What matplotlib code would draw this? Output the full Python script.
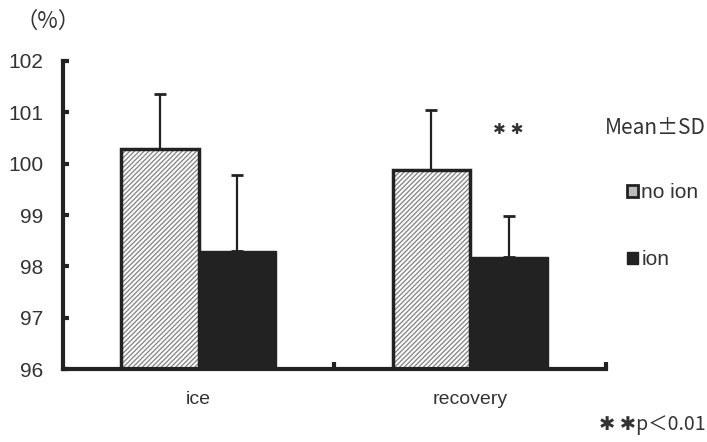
import numpy as np
import matplotlib
matplotlib.use('Agg')
import matplotlib.pyplot as plt
from matplotlib.patches import Patch

plt.rcParams['font.family'] = ['Liberation Sans', 'Noto Sans CJK JP', 'DejaVu Sans']
plt.rcParams['hatch.linewidth'] = 1.0

# data
categories = ['ice', 'recovery']
no_ion_mean = [100.29, 99.88]
no_ion_sd = [1.07, 1.17]
ion_mean = [98.30, 98.18]
ion_sd = [1.48, 0.80]
yticks = [96, 97, 98, 99, 100, 101, 102]

fig = plt.figure(figsize=(7.07, 4.42), dpi=100)
ax = fig.add_axes([0.089, 0.165, 0.768, 0.697])

x = np.arange(len(categories)) + 0.5
w = 0.285
dark = '#222222'
txt = '#333333'

# hatch in grey, then the dark outline on top
ax.bar(x - w/2, no_ion_mean, w, color='white', edgecolor='#8a8a8a',
       linewidth=0, hatch='///////', zorder=2)
ax.bar(x - w/2, no_ion_mean, w, fill=False, edgecolor=dark,
       linewidth=2.5, zorder=3, label='no ion')
ax.bar(x + w/2, ion_mean, w, color=dark, edgecolor=dark, linewidth=1,
       zorder=2, label='ion')
ax.errorbar(x - w/2, no_ion_mean, yerr=[np.zeros(2), no_ion_sd], fmt='none',
            ecolor=dark, elinewidth=1.6, capsize=4, capthick=2, zorder=1)
ax.errorbar(x + w/2, ion_mean, yerr=[np.zeros(2), ion_sd], fmt='none',
            ecolor=dark, elinewidth=1.6, capsize=4, capthick=2, zorder=1)

ax.set_xlim(0, 2)
ax.set_ylim(96, 102)
ax.set_yticks(yticks)
ax.set_yticklabels([str(t) for t in yticks], fontsize=15, color=txt)
ax.set_xticks([1, 2])
ax.set_xticklabels([])
ax.tick_params(axis='y', direction='in', length=4, width=3, color=dark, pad=14)
ax.tick_params(axis='x', direction='in', length=5, width=3, color=dark)
for c, xc in zip(categories, x):
    ax.text(xc, 95.4, c, ha='center', va='center', fontsize=14, color=txt)

for s in ['top', 'right']:
    ax.spines[s].set_visible(False)
for s in ['left', 'bottom']:
    ax.spines[s].set_linewidth(3)
    ax.spines[s].set_color(dark)
    ax.spines[s].set_zorder(4)
ax.spines['left'].set_bounds(96, 102)

fig.text(0.068, 0.952, '（%）', ha='center', va='center', fontsize=16,
         family=['Noto Sans CJK JP', 'DejaVu Sans'], color=txt)
fig.text(0.719, 0.706, '✱ ✱', ha='center', va='center', fontsize=11,
         family=['DejaVu Sans'], color=txt)
fig.text(0.998, 0.711, 'Mean±SD', ha='right', va='center', fontsize=15,
         family=['Noto Sans CJK JP', 'DejaVu Sans'], color=txt)
fig.text(0.998, 0.04, '✱ ✱p＜0.01', ha='right', va='center', fontsize=14,
         family=['Noto Sans CJK JP', 'DejaVu Sans'], color=txt)

handles = [Patch(facecolor='#bbbbbb', edgecolor=dark, linewidth=2),
           Patch(facecolor=dark, edgecolor=dark)]
fig.legend(handles, ['no ion', 'ion'], loc='upper left',
           bbox_to_anchor=(0.866, 0.618), frameon=False, fontsize=15,
           handlelength=0.55, handleheight=0.55, handletextpad=0.15,
           labelspacing=2.3, labelcolor=txt, borderpad=0.2)

fig.savefig('out.png', dpi=100)
